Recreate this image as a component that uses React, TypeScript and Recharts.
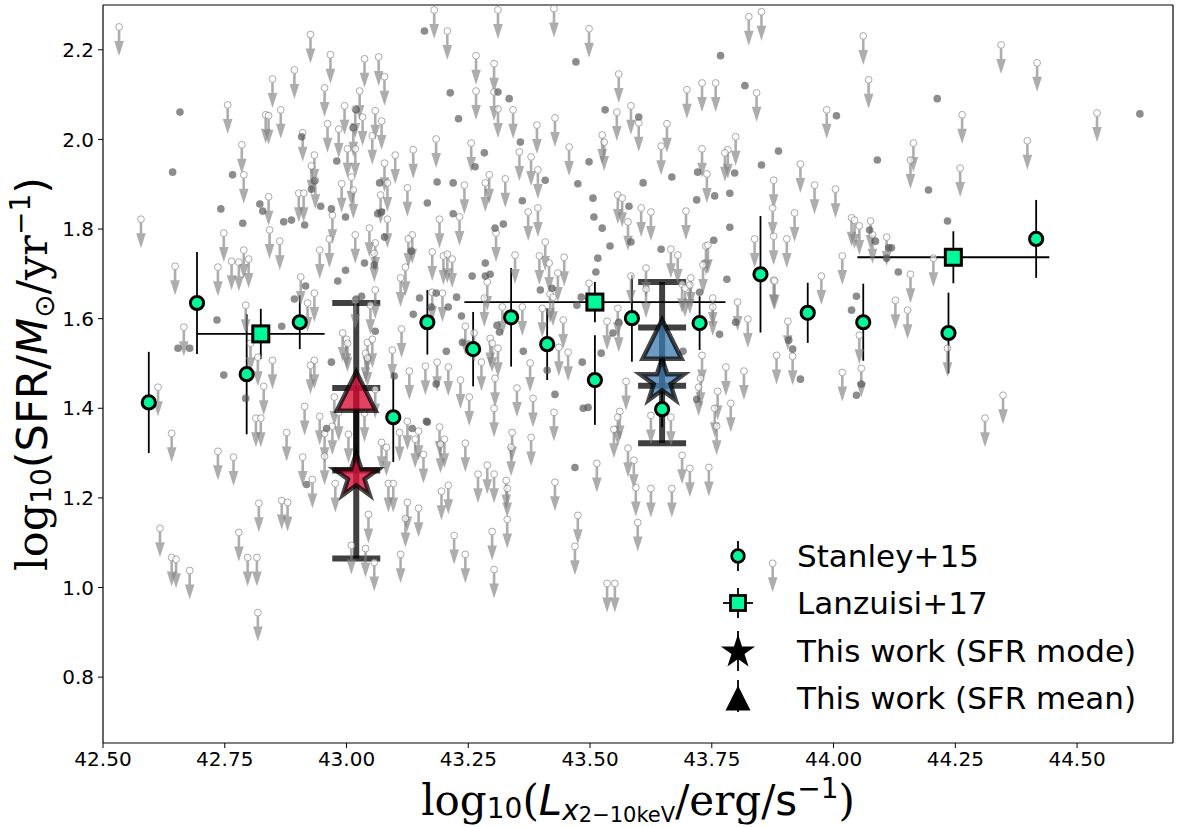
import { ScatterChart, Scatter, XAxis, YAxis, ErrorBar, Legend, ReferenceLine } from "recharts";

// SFR upper limits (non-detections): [log Lx, log SFR]
const upperLimits: [number, number][] = [
  [42.533, 2.251], [42.578, 1.822], [42.648, 1.717], [42.756, 2.077], [42.785, 1.988], [42.789, 1.921],
  [42.748, 1.791], [42.736, 1.715], [42.764, 1.728], [42.779, 1.726], [42.789, 1.753], [42.799, 1.733],
  [42.834, 2.055], [42.84, 2.053], [42.848, 2.135], [42.865, 2.066], [42.84, 1.872], [42.842, 1.798],
  [42.863, 1.773], [42.893, 2.155], [42.926, 2.234], [42.91, 2.015], [42.902, 1.88], [42.912, 1.88],
  [42.934, 1.965], [42.928, 1.941], [42.936, 1.909], [42.955, 2.115], [42.967, 2.189], [42.961, 2.035],
  [42.984, 2.023], [42.996, 2.075], [43.027, 2.108], [43.037, 2.18], [43.066, 2.184], [43.078, 2.14],
  [43.059, 2.064], [43.072, 2.041], [43.033, 2.05], [43.018, 2.068], [43.014, 2.026], [43.053, 2.008],
  [43.002, 1.979], [43.018, 1.979], [43.01, 1.916], [42.99, 1.901], [43.014, 1.887], [43.078, 1.947],
  [43.084, 1.903], [43.07, 1.876], [43.084, 1.822], [43.059, 1.769], [43.057, 1.746], [43.018, 1.787],
  [43.047, 1.802], [42.971, 1.831], [42.965, 1.778], [42.945, 1.753], [43.1, 1.965], [42.906, 1.693],
  [42.934, 1.657], [43.059, 1.664],
  [43.18, 2.289], [43.207, 2.242], [43.266, 2.187], [43.303, 2.169], [43.311, 2.289], [43.426, 2.292],
  [43.498, 2.247], [43.559, 2.146], [43.826, 2.274], [43.852, 2.285], [43.266, 2.108], [43.303, 2.106],
  [43.311, 2.068], [43.342, 2.066], [43.428, 2.048], [43.391, 2.032], [43.555, 2.061], [43.584, 2.075],
  [43.6, 2.037], [43.699, 2.111], [43.73, 2.126], [43.758, 2.126], [43.842, 2.104], [43.658, 2.035],
  [43.646, 1.985], [43.73, 1.979], [43.783, 1.977], [43.799, 2.006], [43.777, 1.97], [43.74, 1.923],
  [43.877, 1.909], [43.875, 1.847], [43.877, 1.784], [43.525, 2.01], [43.529, 1.994], [43.457, 1.983],
  [43.355, 1.972], [43.379, 1.961], [43.393, 1.932], [43.256, 1.992], [43.184, 2.001], [43.137, 1.977],
  [43.293, 1.921], [43.285, 1.903], [43.326, 1.912], [43.242, 1.898], [43.125, 1.892], [43.557, 1.876],
  [43.566, 1.869], [43.605, 1.847], [43.625, 1.838], [43.697, 1.84], [43.373, 1.838], [43.393, 1.847],
  [43.191, 1.822], [43.232, 1.827], [43.135, 1.787], [43.127, 1.778], [43.307, 1.791], [43.408, 1.771],
  [43.578, 1.816], [43.738, 1.762], [43.742, 1.764], [43.666, 1.755], [43.68, 1.742], [43.838, 1.778],
  [43.176, 1.749], [43.199, 1.74], [43.207, 1.744], [43.217, 1.733], [43.346, 1.742], [43.396, 1.74],
  [43.416, 1.724], [43.447, 1.737], [43.615, 1.713], [43.732, 1.72], [43.689, 1.677], [43.707, 1.691],
  [43.877, 1.686], [43.121, 1.715], [43.111, 1.691], [43.289, 1.682], [43.418, 1.655], [43.424, 1.648],
  [43.434, 1.702], [43.498, 1.679], [43.584, 1.695], [43.752, 1.646], [43.197, 1.657], [43.176, 1.659],
  [44.061, 2.231], [44.344, 2.211], [44.418, 2.171], [44.072, 2.133], [43.986, 2.066], [44.264, 2.055],
  [44.541, 2.059], [44.164, 1.992], [44.158, 1.954], [44.398, 1.997], [44.26, 1.936], [43.932, 1.945],
  [43.961, 1.898], [44.004, 1.889], [43.92, 1.836], [43.904, 1.778], [44.037, 1.825], [44.043, 1.82],
  [44.076, 1.818], [44.053, 1.807], [44.08, 1.787], [44.109, 1.782], [44.018, 1.74], [44.205, 1.735],
  [43.975, 1.695], [44.158, 1.699], [43.879, 1.684], [44.127, 1.641],
  [42.666, 1.581], [42.613, 1.447], [42.641, 1.344], [42.617, 1.132], [42.641, 1.067], [42.65, 1.063],
  [42.678, 1.038], [42.797, 1.067], [42.816, 1.067], [42.818, 0.944], [42.793, 1.63], [42.803, 1.545],
  [42.818, 1.514], [42.848, 1.507], [42.83, 1.449], [42.814, 1.378], [42.824, 1.378], [42.736, 1.304],
  [42.768, 1.291], [42.82, 1.188], [42.867, 1.194], [42.879, 1.19], [42.779, 1.123], [42.92, 1.635],
  [42.934, 1.507], [42.926, 1.496], [42.914, 1.404], [42.945, 1.382], [42.877, 1.346], [42.91, 1.291],
  [42.93, 1.241], [42.955, 1.344], [42.955, 1.293], [42.971, 1.36], [42.975, 1.425], [42.992, 1.568],
  [43.0, 1.554], [43.002, 1.545], [42.984, 1.391], [43.004, 1.342], [42.977, 1.232], [43.018, 1.641],
  [43.049, 1.63], [43.043, 1.547], [43.053, 1.554], [43.039, 1.523], [43.043, 1.512], [43.059, 1.442],
  [43.037, 1.389], [43.113, 1.577], [43.094, 1.53], [43.129, 1.483], [43.162, 1.494], [43.125, 1.371],
  [43.109, 1.346], [43.148, 1.349], [43.141, 1.331], [43.158, 1.297], [43.072, 1.324], [43.082, 1.313],
  [43.086, 1.232], [43.096, 1.232], [43.125, 1.19], [43.148, 1.177], [43.121, 1.154], [43.045, 1.163],
  [43.057, 1.056], [43.01, 1.094], [43.039, 1.087],
  [43.186, 1.503], [43.209, 1.492], [43.234, 1.463], [43.244, 1.583], [43.283, 1.646], [43.262, 1.568],
  [43.277, 1.503], [43.295, 1.556], [43.299, 1.545], [43.305, 1.467], [43.311, 1.534], [43.303, 1.4],
  [43.32, 1.626], [43.361, 1.626], [43.35, 1.445], [43.377, 1.501], [43.383, 1.422], [43.402, 1.623],
  [43.436, 1.536], [43.455, 1.525], [43.445, 1.597], [43.426, 1.391], [43.191, 1.358], [43.201, 1.331],
  [43.193, 1.32], [43.244, 1.322], [43.34, 1.346], [43.338, 1.313], [43.379, 1.335], [43.195, 1.215],
  [43.209, 1.228], [43.27, 1.253], [43.289, 1.273], [43.303, 1.253], [43.328, 1.239], [43.33, 1.221],
  [43.221, 1.116], [43.244, 1.074], [43.111, 1.074], [43.299, 1.125], [43.33, 1.152], [43.303, 1.04],
  [43.428, 1.235], [43.475, 1.161], [43.469, 1.092], [43.514, 1.277], [43.535, 1.594], [43.557, 1.623],
  [43.559, 1.59], [43.574, 1.46], [43.561, 1.393], [43.557, 1.38], [43.549, 1.353], [43.578, 1.311],
  [43.59, 1.284], [43.594, 1.223], [43.625, 1.221], [43.598, 1.145], [43.668, 1.221], [43.689, 1.295],
  [43.705, 1.266], [43.744, 1.268], [43.625, 1.384], [43.666, 1.38], [43.779, 1.492], [43.762, 1.438],
  [43.756, 1.4], [43.76, 1.36], [43.789, 1.411], [43.816, 1.483], [43.73, 1.518], [43.727, 1.467],
  [43.723, 1.447], [43.803, 1.637], [43.824, 1.599], [43.752, 1.626], [43.695, 1.668], [43.705, 1.675],
  [43.875, 1.054], [43.615, 1.666], [43.535, 1.009], [43.551, 1.009], [43.252, 1.425],
  [43.906, 1.594], [43.883, 1.518], [43.916, 1.516], [44.018, 1.48], [44.053, 1.563], [44.057, 1.489],
  [44.152, 1.619], [44.234, 1.534], [44.348, 1.429], [44.311, 1.378],
];

// SFR detections: [log Lx, log SFR]
const detections: [number, number][] = [
  [42.658, 2.061], [42.643, 1.927], [42.766, 1.921], [42.742, 1.845], [42.787, 1.813], [42.822, 1.856],
  [42.828, 1.84], [42.871, 1.816], [42.887, 1.82], [42.914, 1.809], [42.908, 2.006], [42.928, 1.889],
  [42.934, 1.907], [42.947, 1.851], [42.98, 1.952], [42.969, 1.845], [42.998, 1.827], [42.998, 1.708],
  [42.982, 1.684], [43.02, 2.066], [43.014, 2.026], [43.037, 1.724], [43.057, 1.72], [43.068, 1.903],
  [43.064, 1.834], [43.072, 1.838], [43.078, 1.782], [42.916, 1.673], [42.893, 1.644], [43.031, 1.65],
  [43.02, 1.644],
  [43.16, 2.242], [43.471, 2.173], [43.768, 2.187], [43.213, 2.104], [43.23, 2.046], [43.311, 2.106],
  [43.334, 2.091], [43.531, 2.066], [43.6, 2.05], [43.818, 2.12], [43.283, 1.97], [43.357, 1.994],
  [43.264, 1.939], [43.498, 1.95], [43.186, 1.905], [43.219, 1.903], [43.408, 1.909], [43.475, 1.901],
  [43.609, 1.903], [43.668, 1.916], [43.166, 1.858], [43.361, 1.863], [43.506, 1.869], [43.58, 1.851],
  [43.508, 1.827], [43.525, 1.802], [43.852, 1.943], [43.721, 1.927], [43.797, 1.925], [43.719, 1.865],
  [43.756, 1.874], [43.787, 1.88], [43.787, 1.804], [43.754, 1.775], [43.887, 1.974], [43.219, 1.834],
  [43.305, 1.802], [43.322, 1.811], [43.541, 1.762], [43.646, 1.755], [43.584, 1.771], [43.285, 1.724],
  [43.258, 1.695], [43.285, 1.695], [43.295, 1.699], [43.516, 1.735], [43.512, 1.704], [43.781, 1.688],
  [43.133, 1.751], [43.15, 1.646], [43.226, 1.648], [43.398, 1.664], [43.184, 1.657], [43.725, 1.659],
  [44.213, 2.091], [44.006, 2.053], [44.629, 2.057], [44.09, 1.954], [44.195, 1.887], [44.234, 1.818],
  [44.074, 1.798], [44.086, 1.773], [44.113, 1.758], [44.119, 1.758], [44.109, 1.735], [44.133, 1.704],
  [44.047, 1.65],
  [42.734, 1.597], [42.748, 1.474], [42.793, 1.422], [42.867, 1.583], [42.969, 1.503], [43.137, 1.61],
  [43.059, 1.572], [43.164, 1.371], [43.135, 1.355], [42.918, 1.23], [42.959, 1.355], [42.654, 1.534],
  [42.678, 1.534],
  [43.174, 1.626], [43.209, 1.626], [43.236, 1.606], [43.205, 1.527], [43.238, 1.547], [43.184, 1.454],
  [43.166, 1.369], [43.098, 1.472], [43.363, 1.527], [43.309, 1.585], [43.314, 1.57], [43.422, 1.668],
  [43.428, 1.431], [43.412, 1.485], [43.484, 1.503], [43.486, 1.4], [43.496, 1.402], [43.469, 1.268],
  [43.473, 1.63], [43.482, 1.648], [43.559, 1.592], [43.547, 1.568], [43.523, 1.523], [43.691, 1.527],
  [43.766, 1.565], [43.799, 1.592], [43.719, 1.42],
  [44.037, 1.619], [43.908, 1.552], [43.916, 1.532], [43.932, 1.465], [44.057, 1.454], [44.047, 1.429],
];

// Stanley+15 binned means
const stanleyLx = [42.594, 42.693, 42.795, 42.904, 43.096, 43.166, 43.26, 43.338, 43.412, 43.51, 43.586, 43.648, 43.725, 43.85, 43.947, 44.061, 44.236, 44.416];
const stanleySfr = [1.413, 1.635, 1.476, 1.592, 1.38, 1.592, 1.532, 1.603, 1.543, 1.463, 1.601, 1.398, 1.59, 1.699, 1.613, 1.592, 1.568, 1.778];
const stanleyErr = [0.113, 0.114, 0.134, 0.06, 0.1, 0.072, 0.083, 0.11, 0.08, 0.1, 0.097, 0.04, 0.06, 0.13, 0.067, 0.086, 0.09, 0.087];

// Lanzuisi+17 bins
const lanzLx = [42.824, 43.51, 44.246];
const lanzSfr = [1.566, 1.637, 1.737];
const lanzLxErr = [0.131, 0.268, 0.197];
const lanzSfrErr = [0.056, 0.045, 0.058];

// this work: two Lx bins, mode and mean of the SFR distribution
const binLx = [43.02, 43.648];
const modeSfr = [1.248, 1.46];
const modeErr: [number, number][] = [[0.183, 0.197], [0.138, 0.12]];
const meanSfr = [1.438, 1.554];
const meanErr: [number, number][] = [[0.177, 0.197], [0.104, 0.128]];

const xTicks = [42.5, 42.75, 43.0, 43.25, 43.5, 43.75, 44.0, 44.25, 44.5];
const yTicks = [0.8, 1.0, 1.2, 1.4, 1.6, 1.8, 2.0, 2.2];
const legendLabels = ["Stanley+15", "Lanzuisi+17", "This work (SFR mode)", "This work (SFR mean)"];

const X_DOMAIN: [number, number] = [42.5, 44.697];
const Y_DOMAIN: [number, number] = [0.653, 2.3];
const GREEN = "#00FA9A";
const BIN_FILLS = ["#DC143C", "#4682B4"];
const SANS = "DejaVu Sans";
const SERIF = "DejaVu Serif";

const toPoints = (pts: [number, number][]) => pts.map(([x, y]) => ({ x, y }));
const limitData = toPoints(upperLimits);
const detectionData = toPoints(detections);
const stanleyData = stanleyLx.map((x, i) => ({ x, y: stanleySfr[i], err: stanleyErr[i] }));
const lanzData = lanzLx.map((x, i) => ({ x, y: lanzSfr[i], xErr: lanzLxErr[i], yErr: lanzSfrErr[i] }));
const modeData = binLx.map((x, i) => ({ x, y: modeSfr[i], err: modeErr[i], fill: BIN_FILLS[i] }));
const meanData = binLx.map((x, i) => ({ x, y: meanSfr[i], err: meanErr[i], fill: BIN_FILLS[i] }));

function starPath(cx: number, cy: number, R: number) {
  let d = "";
  for (let i = 0; i < 10; i++) {
    const r = i % 2 === 0 ? R : R * 0.382;
    const a = -Math.PI / 2 + (i * Math.PI) / 5;
    d += `${i ? "L" : "M"}${(cx + r * Math.cos(a)).toFixed(2)},${(cy + r * Math.sin(a)).toFixed(2)}`;
  }
  return d + "Z";
}

const triPath = (cx: number, cy: number, r: number) =>
  `M${cx},${cy - r}L${cx + r},${cy + r}L${cx - r},${cy + r}Z`;

// downward arrow from the limit value, hollow circle on top
const LimitArrow = ({ cx, cy }: any) => (
  <g opacity={0.64}>
    <line x1={cx} y1={cy} x2={cx} y2={cy + 16} stroke="#808080" strokeWidth={2.6} />
    <polygon points={`${cx - 4.8},${cy + 14} ${cx + 4.8},${cy + 14} ${cx},${cy + 29}`} fill="#808080" />
    <circle cx={cx} cy={cy} r={3.4} fill="#fff" stroke="#7a7a7a" strokeWidth={1} />
  </g>
);

const Dot = ({ cx, cy }: any) => <circle cx={cx} cy={cy} r={3.8} fill="#555" fillOpacity={0.68} />;

const StanleyDot = ({ cx, cy }: any) => (
  <circle cx={cx} cy={cy} r={6.6} fill={GREEN} stroke="#000" strokeWidth={3} />
);

const LanzSquare = ({ cx, cy }: any) => (
  <rect x={cx - 8} y={cy - 8} width={16} height={16} fill={GREEN} stroke="#000" strokeWidth={3} />
);

const ModeStar = ({ cx, cy, payload }: any) => (
  <path d={starPath(cx, cy, 23)} fill={payload.fill} fillOpacity={0.8} stroke="#000" strokeOpacity={0.72} strokeWidth={4.5} />
);

const MeanTriangle = ({ cx, cy, payload }: any) => (
  <path d={triPath(cx, cy, 19.5)} fill={payload.fill} fillOpacity={0.8} stroke="#000" strokeOpacity={0.72} strokeWidth={4.5} strokeLinejoin="miter" />
);

function XTitle() {
  return (
    <text x={638} y={815} textAnchor="middle" fontFamily={SERIF} fontSize={42} fill="#000">
      <tspan>log</tspan>
      <tspan fontFamily={SANS} fontSize={28} dy={3}>10</tspan>
      <tspan dy={-3}>(</tspan>
      <tspan fontFamily={SANS} fontStyle="oblique">L</tspan>
      <tspan fontFamily={SANS} fontStyle="oblique" fontSize={28} dy={5}>x</tspan>
      <tspan fontFamily={SANS} fontSize={21} dy={2}>2−10keV</tspan>
      <tspan dy={-7}>/erg/</tspan>
      <tspan fontFamily={SANS}>s</tspan>
      <tspan fontFamily={SANS} fontSize={28} dy={-17}>−1</tspan>
      <tspan dy={17}>)</tspan>
    </text>
  );
}

function YTitle() {
  return (
    <text transform="rotate(-90)" x={-374} y={47} textAnchor="middle" fontFamily={SERIF} fontSize={43} fill="#000">
      <tspan>log</tspan>
      <tspan fontFamily={SANS} fontSize={28} dy={4}>10</tspan>
      <tspan fontFamily={SANS} dy={-4}>(SFR/</tspan>
      <tspan fontFamily={SANS} fontStyle="oblique">M</tspan>
      <tspan fontFamily={SANS} fontSize={28} dy={7}>⊙</tspan>
      <tspan dy={-7}>/yr</tspan>
      <tspan fontFamily={SANS} fontSize={28} dy={-17}>−1</tspan>
      <tspan fontFamily={SANS} dy={17}>)</tspan>
    </text>
  );
}

const ROWS = [36, 83, 131, 178];

function LegendBox() {
  const mx = 38;
  return (
    <svg width={470} height={210} style={{ display: "block" }}>
      <line x1={mx} x2={mx} y1={ROWS[0] - 15} y2={ROWS[0] + 15} stroke="#000" strokeWidth={1.8} />
      <circle cx={mx} cy={ROWS[0]} r={6.3} fill={GREEN} stroke="#000" strokeWidth={2.8} />
      <line x1={mx} x2={mx} y1={ROWS[1] - 15} y2={ROWS[1] + 15} stroke="#000" strokeWidth={1.8} />
      <line x1={mx - 15} x2={mx + 15} y1={ROWS[1]} y2={ROWS[1]} stroke="#000" strokeWidth={1.8} />
      <rect x={mx - 7.5} y={ROWS[1] - 7.5} width={15} height={15} fill={GREEN} stroke="#000" strokeWidth={2.8} />
      <line x1={mx} x2={mx} y1={ROWS[2] - 20} y2={ROWS[2] + 20} stroke="#000" strokeWidth={1.8} />
      <path d={starPath(mx, ROWS[2] + 1, 18)} fill="#000" />
      <line x1={mx} x2={mx} y1={ROWS[3] - 18} y2={ROWS[3] + 14} stroke="#000" strokeWidth={1.8} />
      <path d={triPath(mx, ROWS[3], 12.5)} fill="#000" />
      {legendLabels.map((t, i) => (
        <text key={t} x={97} y={ROWS[i] + 11} fontFamily={SANS} fontSize={31} fill="#000">
          {t}
        </text>
      ))}
    </svg>
  );
}

const tickStyle = { fill: "#000", fontSize: 20, fontFamily: SANS };

export default function App() {
  return (
    <div style={{ position: "absolute", left: 0, top: 0, width: 1179, height: 827, background: "#fff" }}>
      <ScatterChart width={1179} height={827} margin={{ top: 5, right: 6, bottom: 0, left: 0 }}>
        <XAxis
          type="number"
          dataKey="x"
          domain={X_DOMAIN}
          allowDataOverflow
          ticks={xTicks}
          tickFormatter={(v: number) => v.toFixed(2)}
          height={84}
          tickSize={5}
          tickMargin={4}
          tick={tickStyle}
          tickLine={{ stroke: "#000" }}
          axisLine={{ stroke: "#000", strokeWidth: 1.2 }}
          label={<XTitle />}
        />
        <YAxis
          type="number"
          dataKey="y"
          domain={Y_DOMAIN}
          allowDataOverflow
          ticks={yTicks}
          tickFormatter={(v: number) => v.toFixed(1)}
          width={103}
          tickSize={5}
          tickMargin={4}
          tick={tickStyle}
          tickLine={{ stroke: "#000" }}
          axisLine={{ stroke: "#000", strokeWidth: 1.2 }}
          label={<YTitle />}
        />
        {/* top and right frame edges */}
        <ReferenceLine y={Y_DOMAIN[1]} stroke="#000" strokeWidth={1.2} />
        <ReferenceLine x={X_DOMAIN[1]} stroke="#000" strokeWidth={1.2} />

        <Scatter data={limitData} shape={LimitArrow} isAnimationActive={false} />
        <Scatter data={detectionData} shape={Dot} isAnimationActive={false} />
        <Scatter data={stanleyData} shape={StanleyDot} isAnimationActive={false}>
          <ErrorBar dataKey="err" direction="y" width={0} stroke="#000" strokeWidth={1.8} />
        </Scatter>
        <Scatter data={lanzData} shape={LanzSquare} isAnimationActive={false}>
          <ErrorBar dataKey="xErr" direction="x" width={0} stroke="#000" strokeWidth={1.8} />
          <ErrorBar dataKey="yErr" direction="y" width={0} stroke="#000" strokeWidth={1.8} />
        </Scatter>
        <Scatter data={modeData} shape={ModeStar} isAnimationActive={false}>
          <ErrorBar dataKey="err" direction="y" width={24} stroke="#000" strokeOpacity={0.75} strokeWidth={6} />
        </Scatter>
        <Scatter data={meanData} shape={MeanTriangle} isAnimationActive={false}>
          <ErrorBar dataKey="err" direction="y" width={24} stroke="#000" strokeOpacity={0.75} strokeWidth={6} />
        </Scatter>

        <Legend layout="vertical" align="center" verticalAlign="middle" wrapperStyle={{ left: 700, top: 520, width: 470 }} content={() => <LegendBox />} />
      </ScatterChart>
    </div>
  );
}
